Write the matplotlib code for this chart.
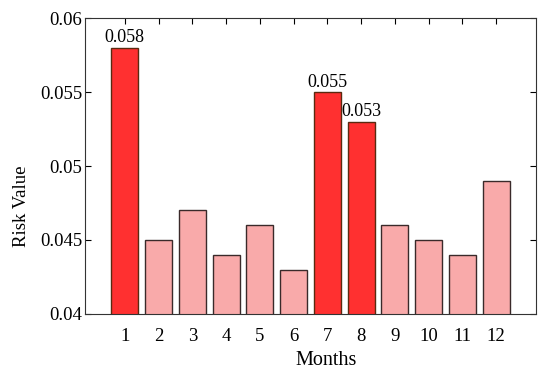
import matplotlib
matplotlib.use('Agg')
import matplotlib.pyplot as plt

months = list(range(1, 13))
risk = [0.058, 0.045, 0.047, 0.044, 0.046, 0.043, 0.055, 0.053, 0.046, 0.045, 0.044, 0.049]
highlight = [1, 7, 8]

plt.rcParams['font.family'] = ['Liberation Serif', 'DejaVu Serif']

fig = plt.figure(figsize=(5.5, 3.76), dpi=100)
ax = fig.add_axes([0.1545, 0.165, 0.82, 0.787])

colors = ['#ff3030' if m in highlight else '#f9aaaa' for m in months]
edges = ['#5a2a10' if m in highlight else '#3a2a2a' for m in months]
ax.bar(months, risk, width=0.8, color=colors, edgecolor=edges, linewidth=1.0, zorder=2)

for m, v in zip(months, risk):
    if m in highlight:
        ax.text(m, v + 0.0001, f'{v:.3f}', ha='center', va='bottom', fontsize=13)

ax.set_xlim(-0.18, 13.18)
ax.set_ylim(0.04, 0.06)
ax.set_xticks(months)
ax.set_yticks([0.04, 0.045, 0.05, 0.055, 0.06])
ax.set_yticklabels(['0.04', '0.045', '0.05', '0.055', '0.06'])
ax.tick_params(direction='in', top=True, right=True, labelsize=13.5, length=4, width=0.8)
ax.tick_params(axis='x', pad=10)
ax.tick_params(axis='y', pad=2)
for s in ax.spines.values():
    s.set_linewidth(0.8)
    s.set_color('#333333')

ax.set_xlabel('Months', fontsize=14.5)
ax.xaxis.set_label_coords(0.534, -0.125)
ax.set_ylabel('Risk Value', fontsize=13.5)
ax.yaxis.set_label_coords(-0.121, 0.365)

fig.savefig('out.png', dpi=100)
